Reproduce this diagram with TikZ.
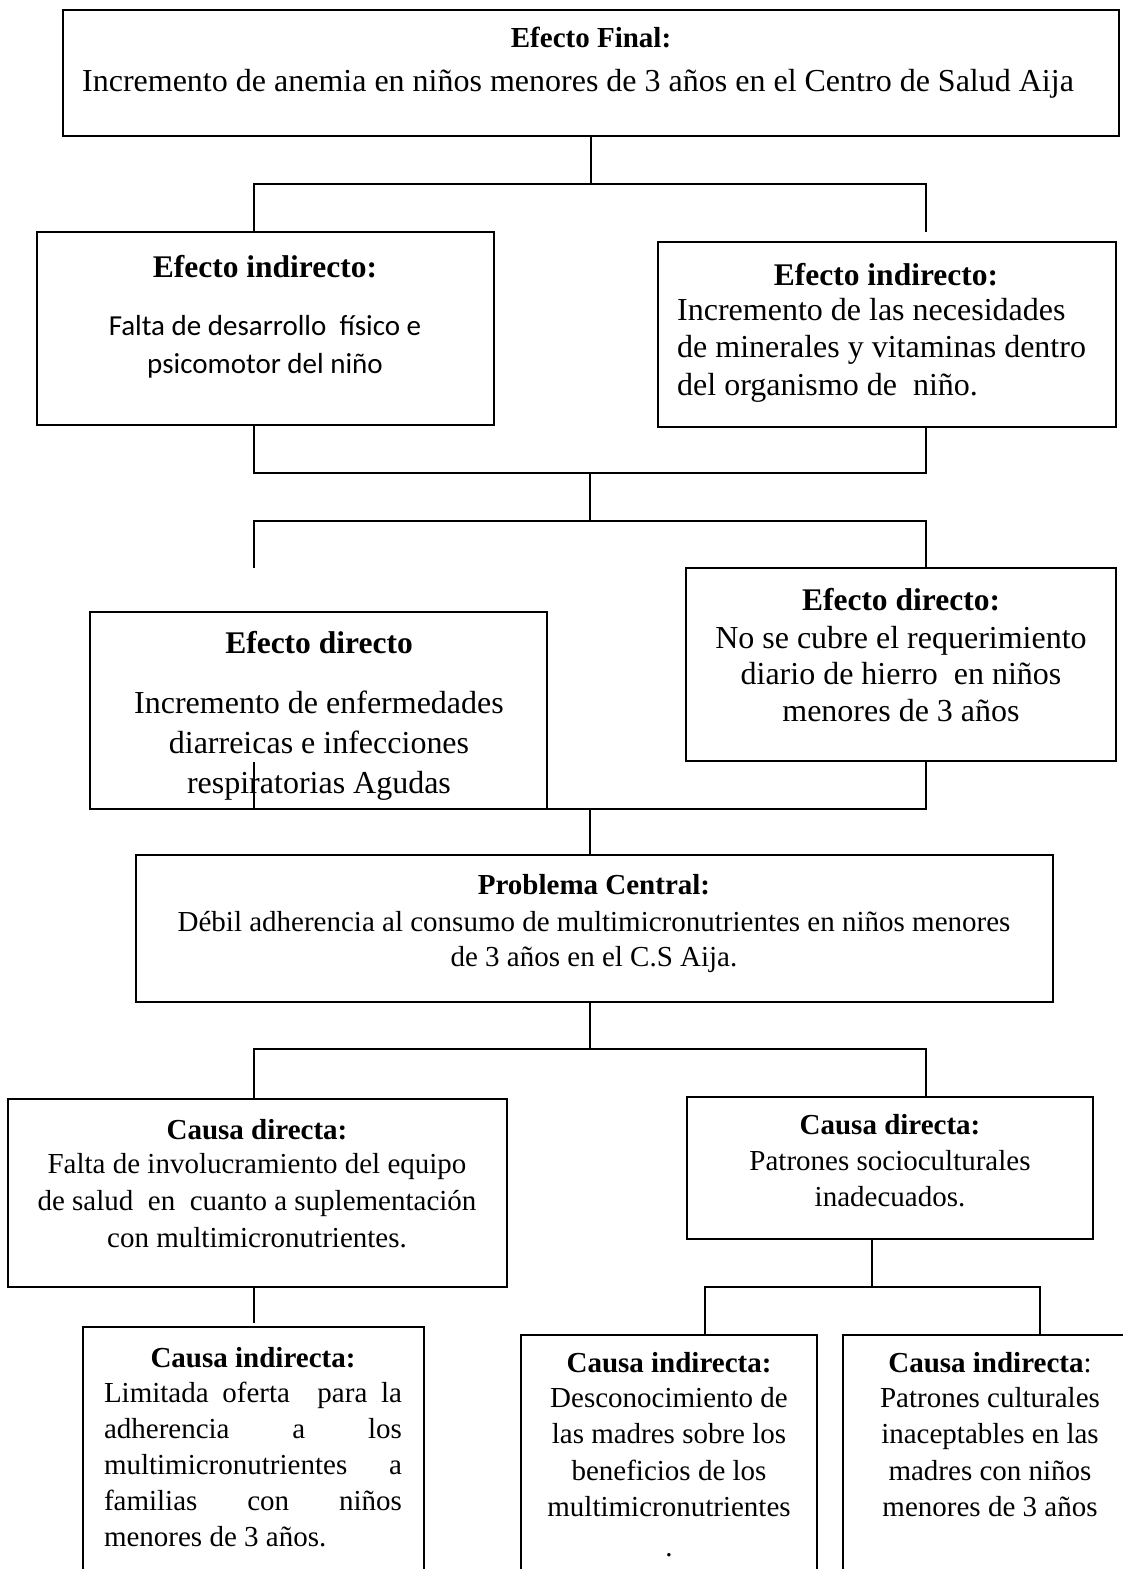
\documentclass[tikz,border=0pt]{standalone}
\usepackage{fontspec}
\setmainfont{Liberation Serif}
\newfontfamily\calibri{Carlito}
\usetikzlibrary{calc}
\tikzstyle{box}=[draw, line width=2.2pt, inner sep=0pt]
\tikzstyle{txt}=[anchor=north, inner sep=0pt, align=center]
\tikzstyle{link}=[line width=1.3pt]
\newcommand{\tam}[2]{\fontsize{#1}{#2}\selectfont}

\begin{document}
\begin{tikzpicture}[x=1pt, y=-1pt]
    \useasboundingbox (0,0) rectangle (1123,1569);
    \clip (0,0) rectangle (1123,1569);

    % box #1 from (#2,#3) to (#4,#5), counted from the top left
    \newcommand{\caja}[5]{
        \node[box, minimum width={(#4-#2)*1pt}, minimum height={(#5-#3)*1pt}] (#1) at ({(#2+#4)/2},{(#3+#5)/2}) {};
    }

    % boxes
    \caja{final}{63}{10}{1119}{136}
    \caja{indA}{37}{232}{494}{425}
    \caja{indB}{658}{242}{1116}{427}
    \caja{dirA}{90}{612}{547}{809}
    \caja{dirB}{686}{568}{1116}{761}
    \caja{central}{136}{855}{1053}{1002}
    \caja{causaA}{8}{1099}{507}{1287}
    \caja{causaB}{687}{1097}{1093}{1239}
    \caja{indirA}{83}{1327}{424}{1620}
    \caja{indirB}{521}{1335}{817}{1620}
    \caja{indirC}{843}{1335}{1135}{1620}

    % effects
    \coordinate (j1) at (254,184);
    \coordinate (j2) at (926,184);
    \draw[link] (final.south) -- (final.south |- j1);
    \draw[link] (indA.north -| j1) -- (j1) -- (j2) -- ++(0,48);
    \coordinate (j3) at (254,473);
    \coordinate (j4) at (926,473);
    \draw[link] (indA.south -| j3) -- (j3) -- (j4) -- (indB.south -| j4);
    \coordinate (j5) at (254,521);
    \coordinate (j6) at (926,521);
    \draw[link] ($(j3)!.5!(j4)$) -- ($(j5)!.5!(j6)$);
    \draw[link] ($(j5)+(0,47)$) -- (j5) -- (j6) -- (dirB.north -| j6);
    \coordinate (j7) at (254,809);
    \coordinate (j8) at (926,809);
    \draw[link] ($(j7)+(0,-47)$) -- (j7) -- (j8) -- (dirB.south -| j8);
    \coordinate (c1) at ($(j7)!.5!(j8)$);
    \draw[link] (c1) -- (central.north -| c1);

    % causes
    \coordinate (k1) at (254,1049);
    \coordinate (k2) at (926,1049);
    \draw[link] (central.south -| c1) -- ($(k1)!.5!(k2)$);
    \draw[link] (causaA.north -| k1) -- (k1) -- (k2) -- (causaB.north -| k2);
    \draw[link] (causaA.south -| k1) -- ++(0,35);
    \coordinate (k3) at (705,1287);
    \coordinate (k4) at (1040,1287);
    \coordinate (k5) at (872,1287);
    \draw[link] (causaB.south -| k5) -- (k5);
    \draw[link] (indirB.north -| k3) -- (k3) -- (k4) -- (indirC.north -| k4);

    % texts
    \node[txt, font=\tam{29}{36}\bfseries] (finalT) at (591,27) {Efecto Final:};
    \node[txt, font=\tam{32}{37}] (finalB) at (578,69) {Incremento de anemia en niños menores de 3 años en el Centro de Salud Aija};
    \node[txt, font=\tam{29}{38}\calibri] (indAT) at (265,255) {\rmfamily\bfseries\tam{31.5}{38}Efecto indirecto:\\[20pt] Falta de desarrollo~ físico e\\ psicomotor del niño};
    \node[txt, font=\tam{31.5}{38}\bfseries] (indBT) at (886,263) {Efecto indirecto:};
    \node[txt, anchor=north west, align=left, font=\tam{32}{37.5}] (indBB) at (677,298) {Incremento de las necesidades\\ de minerales y vitaminas dentro\\ del organismo de~ niño.};
    \node[txt, font=\tam{32}{40}] (dirAT) at (319,631) {\bfseries\tam{31.5}{40}Efecto directo\\[20pt] Incremento de enfermedades\\ diarreicas e infecciones\\ respiratorias Agudas};
    \node[txt, font=\tam{32}{36.5}] (dirBT) at (901,588) {\bfseries\tam{31.5}{36.5}Efecto directo:\\[1.5pt] No se cubre el requerimiento\\ diario de hierro~ en niños\\ menores de 3 años};
    \node[txt, font=\tam{29}{35.5}] (centralT) at (594,874) {\bfseries Problema Central:\\[1.5pt] Débil adherencia al consumo de multimicronutrientes en niños menores\\ de 3 años en el C.S Aija.};
    \node[txt, font=\tam{29}{37}] (causaAT) at (257,1119) {\bfseries Causa directa:\\[-3pt] Falta de involucramiento del equipo\\ de salud~ en~ cuanto a suplementación\\ con multimicronutrientes.};
    \node[txt, font=\tam{29}{36}] (causaBT) at (890,1114) {\bfseries Causa directa:\\ Patrones socioculturales\\ inadecuados.};
    \node[txt, font=\tam{29}{36}] (indirAT) at (253,1347) {\bfseries Causa indirecta:\\[-1pt] \makebox[298pt][s]{Limitada oferta~ para la}\\ \makebox[298pt][s]{adherencia a los}\\ \makebox[298pt][s]{multimicronutrientes a}\\ \makebox[298pt][s]{familias con niños}\\ \makebox[298pt][l]{menores de 3 años.}};
    \node[txt, font=\tam{29}{36.5}] (indirBT) at (669,1352) {\bfseries Causa indirecta:\\[-1.5pt] Desconocimiento de\\ las madres sobre los\\ beneficios de los\\ multimicronutrientes\\[3pt] .};
    \node[txt, font=\tam{29}{36.5}] (indirCT) at (990,1352) {\textbf{Causa indirecta}:\\[-1.5pt] Patrones culturales\\ inaceptables en las\\ madres con niños\\ menores de 3 años};
\end{tikzpicture}
\end{document}
